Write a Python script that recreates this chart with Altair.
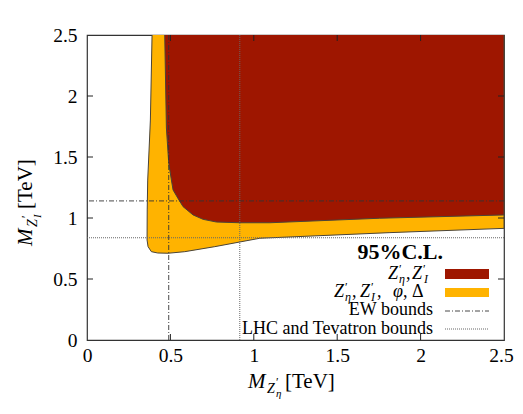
import altair as alt
import pandas as pd

# ---------------- data ----------------
# region allowed for Z'_eta, Z'_I, phi, Delta (orange), polygon vertices
orange_x = [0.390, 0.380, 0.372, 0.364, 0.361, 0.360, 0.366, 0.386, 0.424, 0.486,
            0.586, 0.766, 1.036, 1.816, 2.5, 2.5]
orange_y = [2.5, 1.803, 1.557, 1.311, 1.066, 0.820, 0.765, 0.724, 0.713, 0.711,
            0.724, 0.765, 0.834, 0.880, 0.915, 2.5]
# region allowed for Z'_eta, Z'_I (dark red), polygon vertices
red_x = [0.466, 0.476, 0.490, 0.506, 0.516, 0.544, 0.576, 0.636, 0.696, 0.776,
         0.916, 1.096, 1.755, 2.5, 2.5]
red_y = [2.5, 1.738, 1.451, 1.311, 1.230, 1.164, 1.093, 1.025, 0.989, 0.967,
         0.961, 0.961, 0.998, 1.025, 2.5]
ew_bound_x = [0.49]
ew_bound_y = [1.14]
lhc_bound_x = [0.916]
lhc_bound_y = [0.838]
tick_values = [0, 0.5, 1, 1.5, 2, 2.5]

# ---------------- style / layout ----------------
W, H = 417, 305
OX, OY = 87, 35          # absolute position of plot origin on the page
FONT = "'Liberation Serif', 'DejaVu Serif', serif"
RED = "#9e1600"
ORANGE = "#ffb300"
OUTLINE = "#4a4438"

dom = [0, 2.5]
xs = alt.Scale(domain=dom, nice=False, zero=False)
ys = alt.Scale(domain=dom, nice=False, zero=False)
ax_x = alt.Axis(values=tick_values, format="~g", title=None, grid=False, domain=False,
                ticks=False, labelFont=FONT, labelFontSize=19.5, labelColor="black",
                labelPadding=6, labelFlush=False, labelOverlap=False,
                labelOffset=alt.ExprRef("datum.value == 2.5 ? -3 : 0"))
ax_y = alt.Axis(values=tick_values, format="~g", title=None, grid=False, domain=False,
                ticks=False, labelFont=FONT, labelFontSize=19.5, labelColor="black",
                labelPadding=10, labelFlush=False, labelOverlap=False)


def region(xv, yv, color):
    df = pd.DataFrame({"x": xv, "y": yv, "i": list(range(len(xv)))})
    return alt.Chart(df).mark_line(fill=color, stroke=OUTLINE, strokeWidth=1,
                                   interpolate="linear").encode(
        x=alt.X("x:Q", scale=xs, axis=ax_x),
        y=alt.Y("y:Q", scale=ys, axis=ax_y),
        order="i:Q",
    )


orange = region(orange_x, orange_y, ORANGE)
red = region(red_x, red_y, RED)

ew_v = alt.Chart(pd.DataFrame({"v": ew_bound_x})).mark_rule(
    color="#333333", strokeWidth=0.9, strokeDash=[5, 2, 1, 2]).encode(
    x=alt.X("v:Q", scale=xs, axis=ax_x))
ew_h = alt.Chart(pd.DataFrame({"v": ew_bound_y})).mark_rule(
    color="#333333", strokeWidth=0.9, strokeDash=[5, 2, 1, 2]).encode(
    y=alt.Y("v:Q", scale=ys, axis=ax_y))
lhc_v = alt.Chart(pd.DataFrame({"v": lhc_bound_x})).mark_rule(
    color="#666666", strokeWidth=1, strokeDash=[1, 1]).encode(
    x=alt.X("v:Q", scale=xs, axis=ax_x))
lhc_h = alt.Chart(pd.DataFrame({"v": lhc_bound_y})).mark_rule(
    color="#666666", strokeWidth=1, strokeDash=[1, 1]).encode(
    y=alt.Y("v:Q", scale=ys, axis=ax_y))

# inward (mirrored) ticks
tdf = pd.DataFrame({"v": tick_values[1:-1]})
TL = 6
tick_b = alt.Chart(tdf).mark_rule(color="#222").encode(
    x=alt.X("v:Q", scale=xs, axis=ax_x), y=alt.value(H), y2=alt.value(H - TL))
tick_t = alt.Chart(tdf).mark_rule(color="#222").encode(
    x=alt.X("v:Q", scale=xs, axis=ax_x), y=alt.value(0), y2=alt.value(TL))
tick_l = alt.Chart(tdf).mark_rule(color="#222").encode(
    y=alt.Y("v:Q", scale=ys, axis=ax_y), x=alt.value(0), x2=alt.value(TL))
tick_r = alt.Chart(tdf).mark_rule(color="#222").encode(
    y=alt.Y("v:Q", scale=ys, axis=ax_y), x=alt.value(W), x2=alt.value(W - TL))

one = pd.DataFrame({"a": [0]})


def txt(s, ax, ay, size, style="normal", weight="normal", align="left", angle=0):
    return alt.Chart(one).mark_text(
        text=s, font=FONT, fontSize=size, fontStyle=style, fontWeight=weight,
        align=align, baseline="alphabetic", angle=angle, color="black").encode(
        x=alt.value(ax - OX), y=alt.value(ay - OY))


def box(x1, x2, y1, y2, color):
    return alt.Chart(one).mark_rect(color=color).encode(
        x=alt.value(x1 - OX), x2=alt.value(x2 - OX),
        y=alt.value(y1 - OY), y2=alt.value(y2 - OY))


def seg(x1, x2, y, color, dash, sw=1):
    return alt.Chart(one).mark_rule(color=color, strokeDash=dash, strokeWidth=sw).encode(
        x=alt.value(x1 - OX), x2=alt.value(x2 - OX), y=alt.value(y - OY))


texts = [
    # x-axis title  M_{Z'_eta} [TeV]
    txt("M", 248, 388, 21, "italic"),
    txt("Z", 267, 393, 14, "italic"),
    txt("\u2032", 276, 386, 12),
    txt("\u03b7", 276, 397, 11, "italic"),
    txt("[TeV]", 285, 388, 21),
    # y-axis title  M_{Z'_I} [TeV]  (rotated)
    txt("M", 32, 246, 21, "italic", angle=270),
    txt("Z", 37, 227, 14, "italic", angle=270),
    txt("\u2032", 30, 218, 12, angle=270),
    txt("I", 41, 218, 11, "italic", angle=270),
    txt("[TeV]", 32, 209, 21, angle=270),
    # legend
    txt("95%C.L.", 443, 259, 22, weight="bold", align="right"),
    txt("Z", 388, 279, 18, "italic"),
    txt("\u2032", 399, 273, 12),
    txt("\u03b7", 399, 283, 12, "italic"),
    txt(",", 406, 279, 18),
    txt("Z", 412, 279, 18, "italic"),
    txt("\u2032", 423, 273, 12),
    txt("I", 424, 283, 12, "italic"),
    txt("Z", 334, 297, 18, "italic"),
    txt("\u2032", 345, 291, 12),
    txt("\u03b7", 345, 301, 12, "italic"),
    txt(",", 352, 297, 18),
    txt("Z", 360, 297, 18, "italic"),
    txt("\u2032", 371, 291, 12),
    txt("I", 371, 301, 12, "italic"),
    txt(",", 377, 297, 18),
    txt("\u03c6", 393, 297, 18, "italic"),
    txt(",", 403, 297, 18),
    txt("\u0394", 412, 297, 18),
    txt("EW bounds", 433, 315, 18, align="right"),
    txt("LHC and Tevatron bounds", 433, 334, 18, align="right"),
]
legend_marks = [
    box(445, 489, 269, 279, RED),
    box(445, 489, 288, 297, ORANGE),
    seg(445, 489, 311, "#333333", [5, 2, 1, 2], 0.9),
    seg(445, 489, 329, "#666666", [1, 1], 1),
]

chart = alt.layer(
    orange, red, ew_v, ew_h, lhc_v, lhc_h,
    tick_b, tick_t, tick_l, tick_r,
    *legend_marks, *texts,
).properties(
    width=W, height=H,
    autosize=alt.AutoSizeParams(type="none"),
    padding={"left": OX - 8, "top": OY - 8, "right": 11, "bottom": 62},
).configure_view(stroke="#333333", strokeWidth=1.2)

chart.save("out.html", embed_options={"renderer": "svg", "actions": False})
